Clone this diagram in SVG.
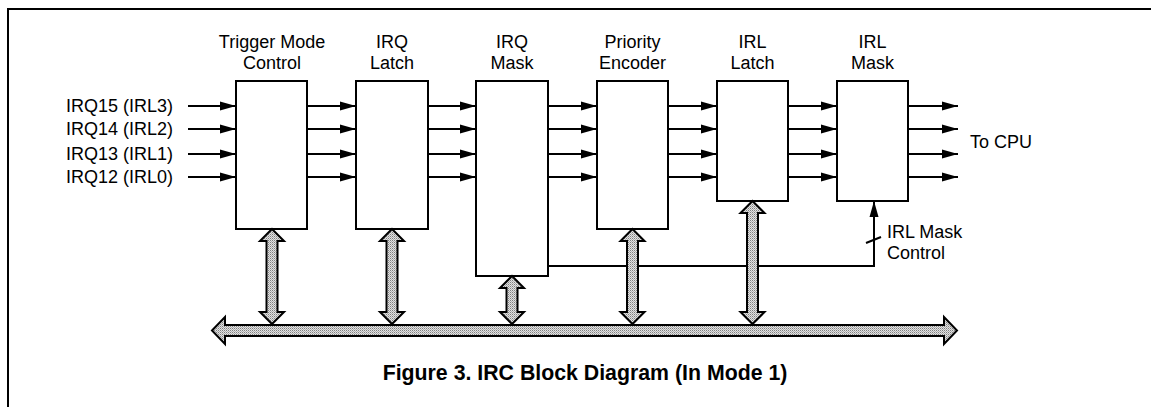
<svg xmlns="http://www.w3.org/2000/svg" width="1151" height="407" viewBox="0 0 1151 407">
<style>
text{font-family:"Liberation Sans",Arial,sans-serif;fill:#000}
.lbl{font-size:18px}
.ctr{text-anchor:middle}
.title{font-size:21.3px;font-weight:bold}
.box{fill:#fff;stroke:#000;stroke-width:2}
.sig{stroke:#000;stroke-width:2;fill:none;marker-end:url(#ah)}
.ln{stroke:#000;stroke-width:2;fill:none}
.bus{fill:url(#stip);stroke:#000;stroke-width:2;stroke-linejoin:miter}
</style>
<defs>
<marker id="ah" markerUnits="userSpaceOnUse" markerWidth="16" markerHeight="10" refX="16" refY="5" orient="auto">
<path d="M0,0.5 L16,5 L0,9.5 z" fill="#000"/>
</marker>
<pattern id="stip" width="2" height="2" patternUnits="userSpaceOnUse">
<rect width="2" height="2" fill="#e2e2e2"/>
<rect width="1" height="1" fill="#808080"/>
<rect x="1" y="1" width="1" height="1" fill="#b0b0b0"/>
</pattern>
</defs>
<g id="frame">
<line x1="7" y1="9" x2="1151" y2="9" class="ln"/>
<line x1="8" y1="8" x2="8" y2="407" class="ln"/>
</g>
<g id="inputs">
<text class="lbl" x="173" y="112" text-anchor="end">IRQ15 (IRL3)</text>
<text class="lbl" x="173" y="135" text-anchor="end">IRQ14 (IRL2)</text>
<text class="lbl" x="173" y="160" text-anchor="end">IRQ13 (IRL1)</text>
<text class="lbl" x="173" y="183" text-anchor="end">IRQ12 (IRL0)</text>
</g>
<g id="trigger-mode-control">
<rect class="box" x="236" y="81" width="71" height="148"/>
<text class="lbl ctr" x="272" y="48">Trigger Mode</text>
<text class="lbl ctr" x="272" y="69">Control</text>
</g>
<g id="irq-latch">
<rect class="box" x="356" y="81" width="72" height="148"/>
<text class="lbl ctr" x="392" y="48">IRQ</text>
<text class="lbl ctr" x="392" y="69">Latch</text>
</g>
<g id="irq-mask">
<rect class="box" x="476" y="81" width="72" height="195"/>
<text class="lbl ctr" x="512" y="48">IRQ</text>
<text class="lbl ctr" x="512" y="69">Mask</text>
</g>
<g id="priority-encoder">
<rect class="box" x="597" y="81" width="71" height="148"/>
<text class="lbl ctr" x="632.5" y="48">Priority</text>
<text class="lbl ctr" x="632.5" y="69">Encoder</text>
</g>
<g id="irl-latch">
<rect class="box" x="717" y="81" width="71" height="120"/>
<text class="lbl ctr" x="752.5" y="48">IRL</text>
<text class="lbl ctr" x="752.5" y="69">Latch</text>
</g>
<g id="irl-mask">
<rect class="box" x="837" y="81" width="71" height="120"/>
<text class="lbl ctr" x="872.5" y="48">IRL</text>
<text class="lbl ctr" x="872.5" y="69">Mask</text>
</g>
<g id="to-cpu">
<text class="lbl" x="970" y="148">To CPU</text>
</g>
<g id="irl-mask-control">
<text class="lbl" x="887" y="238">IRL Mask</text>
<text class="lbl" x="887" y="259">Control</text>
</g>
<g id="connectors">
<line class="sig" x1="188" y1="106" x2="236" y2="106"/>
<line class="sig" x1="188" y1="129" x2="236" y2="129"/>
<line class="sig" x1="188" y1="154" x2="236" y2="154"/>
<line class="sig" x1="188" y1="177" x2="236" y2="177"/>
<line class="sig" x1="307" y1="106" x2="356" y2="106"/>
<line class="sig" x1="307" y1="129" x2="356" y2="129"/>
<line class="sig" x1="307" y1="154" x2="356" y2="154"/>
<line class="sig" x1="307" y1="177" x2="356" y2="177"/>
<line class="sig" x1="428" y1="106" x2="476" y2="106"/>
<line class="sig" x1="428" y1="129" x2="476" y2="129"/>
<line class="sig" x1="428" y1="154" x2="476" y2="154"/>
<line class="sig" x1="428" y1="177" x2="476" y2="177"/>
<line class="sig" x1="548" y1="106" x2="597" y2="106"/>
<line class="sig" x1="548" y1="129" x2="597" y2="129"/>
<line class="sig" x1="548" y1="154" x2="597" y2="154"/>
<line class="sig" x1="548" y1="177" x2="597" y2="177"/>
<line class="sig" x1="668" y1="106" x2="717" y2="106"/>
<line class="sig" x1="668" y1="129" x2="717" y2="129"/>
<line class="sig" x1="668" y1="154" x2="717" y2="154"/>
<line class="sig" x1="668" y1="177" x2="717" y2="177"/>
<line class="sig" x1="788" y1="106" x2="837" y2="106"/>
<line class="sig" x1="788" y1="129" x2="837" y2="129"/>
<line class="sig" x1="788" y1="154" x2="837" y2="154"/>
<line class="sig" x1="788" y1="177" x2="837" y2="177"/>
<line class="sig" x1="908" y1="106" x2="958" y2="106"/>
<line class="sig" x1="908" y1="129" x2="958" y2="129"/>
<line class="sig" x1="908" y1="154" x2="958" y2="154"/>
<line class="sig" x1="908" y1="177" x2="958" y2="177"/>
<path class="ln" d="M548,266H874V215"/>
<line class="sig" x1="874" y1="220" x2="874" y2="201"/>
<line class="ln" x1="866" y1="243" x2="881" y2="237"/>
<polygon class="bus" points="212,330.5 225,317 225,325 944,325 944,317 957,330.5 944,344 944,336 225,336 225,344"/>
<polygon class="bus" points="272,229 284,241 277.5,241 277.5,312 284,312 272,324 260,312 266.5,312 266.5,241 260,241"/>
<polygon class="bus" points="392,229 404,241 397.5,241 397.5,312 404,312 392,324 380,312 386.5,312 386.5,241 380,241"/>
<polygon class="bus" points="512,276 524,288 517.5,288 517.5,312 524,312 512,324 500,312 506.5,312 506.5,288 500,288"/>
<polygon class="bus" points="632.5,229 644.5,241 638,241 638,312 644.5,312 632.5,324 620.5,312 627,312 627,241 620.5,241"/>
<polygon class="bus" points="752.5,201 764.5,213 758,213 758,312 764.5,312 752.5,324 740.5,312 747,312 747,213 740.5,213"/>
</g>
<g id="caption">
<text class="title ctr" x="585" y="380">Figure 3. IRC Block Diagram (In Mode 1)</text>
</g>
</svg>
